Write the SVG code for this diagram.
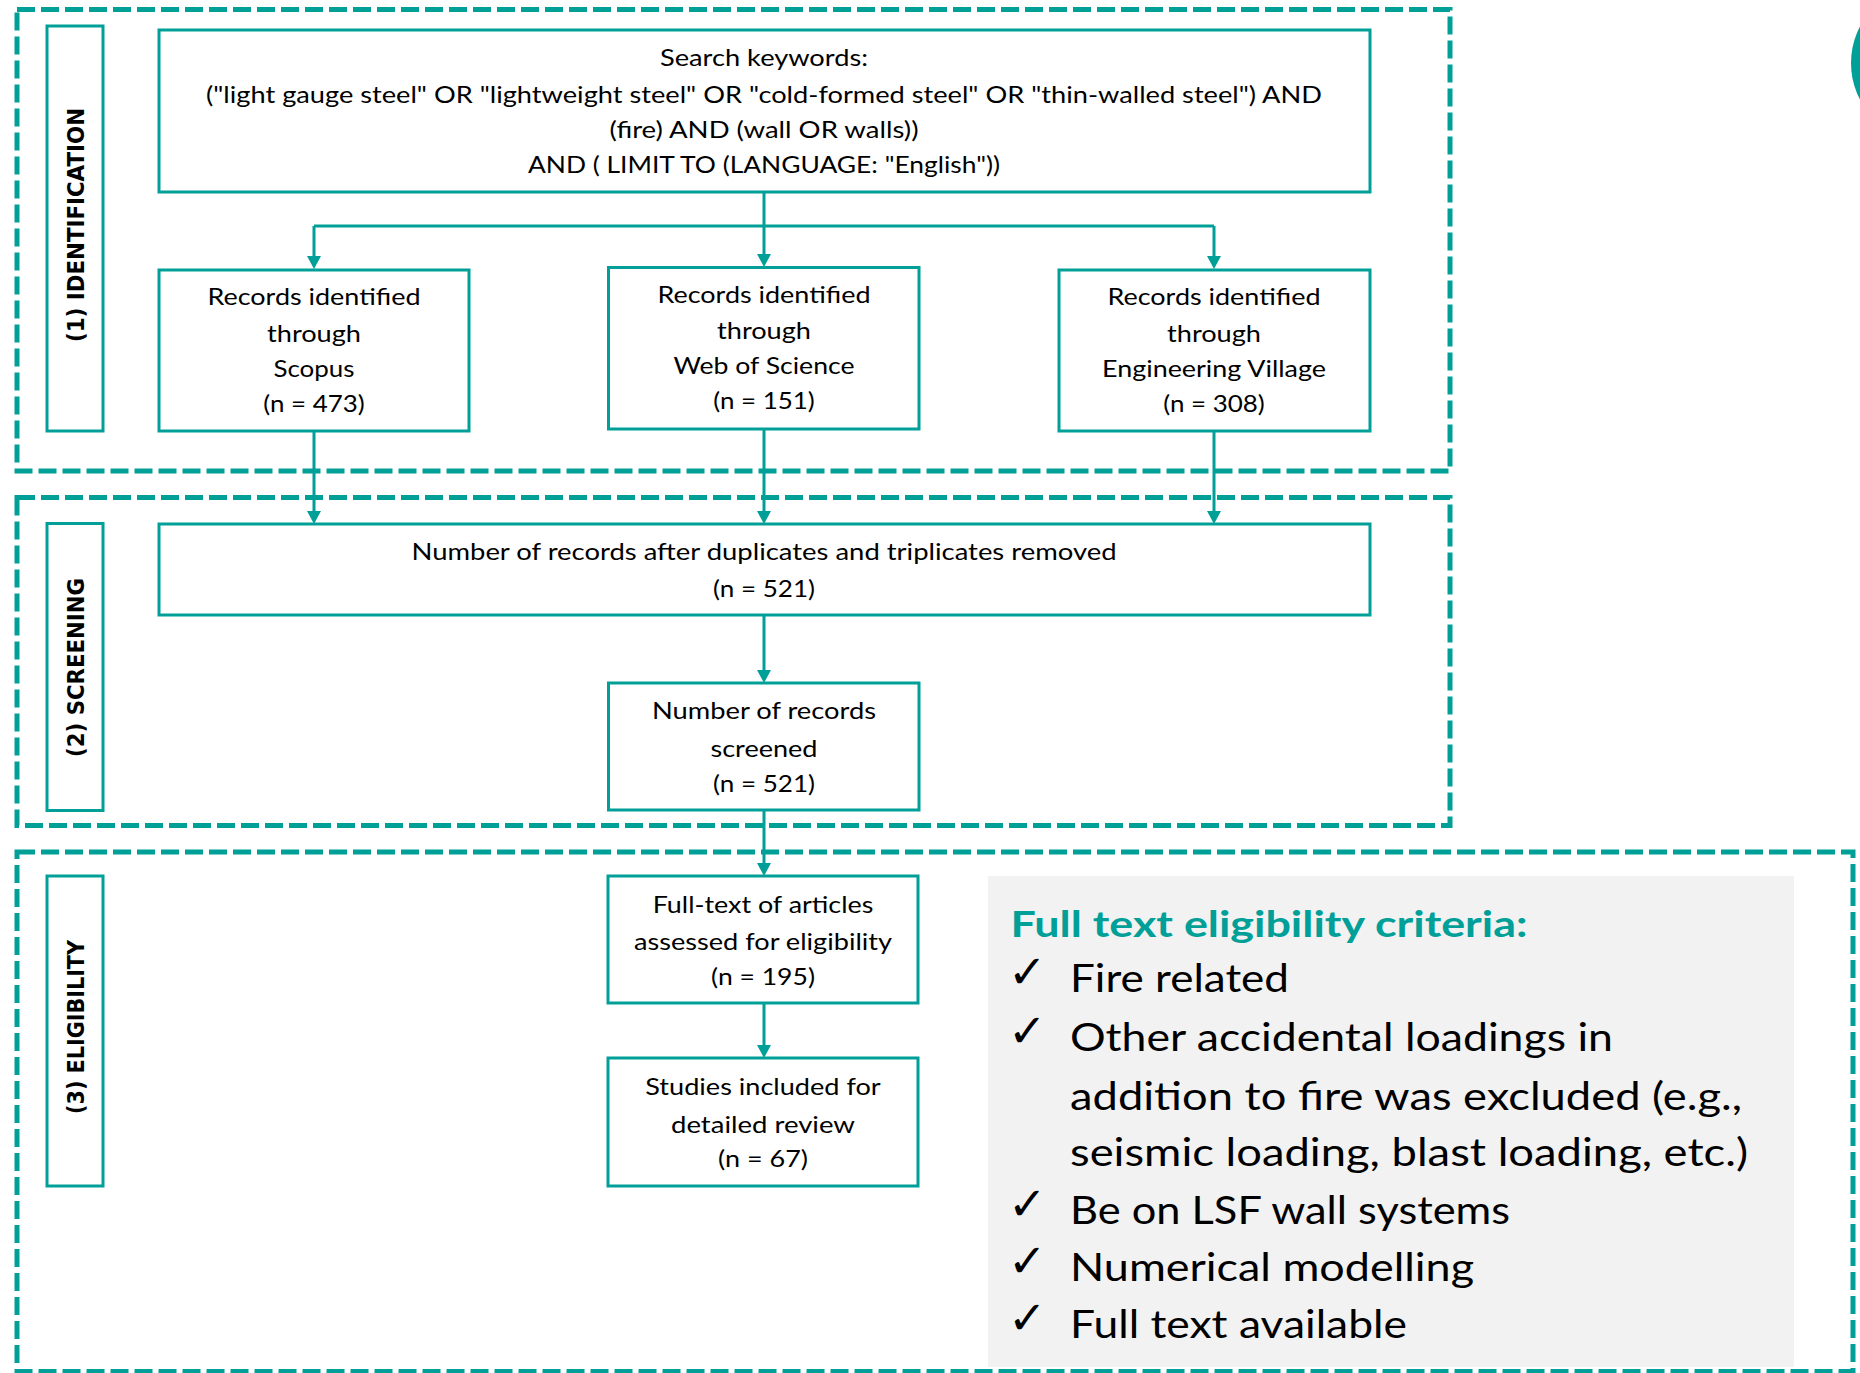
<svg xmlns="http://www.w3.org/2000/svg" width="1860" height="1373" viewBox="0 0 1860 1373">
<defs>
<style>
.zone{fill:none;stroke:#009F98;stroke-width:5;stroke-dasharray:18 6}
.box{fill:#fff;stroke:#009F98;stroke-width:3}
.side{fill:none;stroke:#009F98;stroke-width:3}
.t{font-family:Lato,"Open Sans",sans-serif;font-size:23px;fill:#000;text-anchor:middle}
.lbl{font-family:"DejaVu Sans",Verdana,sans-serif;font-weight:bold;font-size:23px;fill:#000;text-anchor:middle}
.c{font-family:Lato,"Open Sans",sans-serif;font-size:39px;fill:#000}
.ttl{font-family:Lato,"Open Sans",sans-serif;font-size:36.5px;font-weight:bold;fill:#009F98}
.chk{font-family:"DejaVu Sans",sans-serif;font-size:46px;fill:#000}
.con{fill:none;stroke:#009F98;stroke-width:3}
</style>
<marker id="ah" viewBox="0 0 13 14" refX="9" refY="7" markerWidth="13" markerHeight="14" markerUnits="userSpaceOnUse" orient="auto">
<path d="M0,0 L13,7 L0,14 z" fill="#009F98"/>
</marker>
</defs>
<rect width="1860" height="1373" fill="#fff"/>
<circle cx="1930" cy="63" r="79" fill="#009F98"/>

<g id="zones">
<rect class="zone" x="17" y="9.5" width="1433" height="461.5"/>
<rect class="zone" x="17" y="497.5" width="1433" height="328"/>
<rect class="zone" x="17" y="852" width="1836" height="519.5"/>
</g>

<g id="label-identification">
<rect class="side" x="47" y="26" width="56" height="405"/>
<text class="lbl" transform="translate(84,225) rotate(-90)" textLength="234" lengthAdjust="spacingAndGlyphs">(1) IDENTIFICATION</text>
</g>
<g id="label-screening">
<rect class="side" x="47" y="523.5" width="56" height="287"/>
<text class="lbl" transform="translate(84,667.5) rotate(-90)" textLength="179" lengthAdjust="spacingAndGlyphs">(2) SCREENING</text>
</g>
<g id="label-eligibility">
<rect class="side" x="47" y="876" width="56" height="310"/>
<text class="lbl" transform="translate(84,1027) rotate(-90)" textLength="174" lengthAdjust="spacingAndGlyphs">(3) ELIGIBILITY</text>
</g>

<g id="connectors">
<path class="con" d="M764,192 V226 M314,226 H1214"/>
<path class="con" d="M314,226 V265" marker-end="url(#ah)"/>
<path class="con" d="M764,226 V263" marker-end="url(#ah)"/>
<path class="con" d="M1214,226 V265" marker-end="url(#ah)"/>
<path class="con" d="M314,431 V520" marker-end="url(#ah)"/>
<path class="con" d="M764,429 V520" marker-end="url(#ah)"/>
<path class="con" d="M1214,431 V520" marker-end="url(#ah)"/>
<path class="con" d="M764,615 V679" marker-end="url(#ah)"/>
<path class="con" d="M764,810 V872" marker-end="url(#ah)"/>
<path class="con" d="M764,1003 V1054" marker-end="url(#ah)"/>
</g>

<g id="search">
<rect class="box" x="159" y="30" width="1211" height="162"/>
<text class="t" x="764" y="66" textLength="208" lengthAdjust="spacingAndGlyphs">Search keywords:</text>
<text class="t" x="764" y="102.7" textLength="1116" lengthAdjust="spacingAndGlyphs">("light gauge steel" OR "lightweight steel" OR "cold-formed steel" OR "thin-walled steel") AND</text>
<text class="t" x="764" y="138.3" textLength="309" lengthAdjust="spacingAndGlyphs">(fire) AND (wall OR walls))</text>
<text class="t" x="764" y="172.7" textLength="472" lengthAdjust="spacingAndGlyphs">AND ( LIMIT TO (LANGUAGE: "English"))</text>
</g>

<g id="scopus">
<rect class="box" x="159" y="270" width="310" height="161"/>
<text class="t" x="314" y="305" textLength="213" lengthAdjust="spacingAndGlyphs">Records identified</text>
<text class="t" x="314" y="341.5" textLength="94" lengthAdjust="spacingAndGlyphs">through</text>
<text class="t" x="314" y="376.7" textLength="81" lengthAdjust="spacingAndGlyphs">Scopus</text>
<text class="t" x="314" y="411.7" textLength="101.6" lengthAdjust="spacingAndGlyphs">(n = 473)</text>
</g>

<g id="wos">
<rect class="box" x="608.5" y="267.5" width="310.5" height="161.5"/>
<text class="t" x="764" y="302.5" textLength="213" lengthAdjust="spacingAndGlyphs">Records identified</text>
<text class="t" x="764" y="339" textLength="94" lengthAdjust="spacingAndGlyphs">through</text>
<text class="t" x="764" y="374.2" textLength="181" lengthAdjust="spacingAndGlyphs">Web of Science</text>
<text class="t" x="764" y="409.2" textLength="101.6" lengthAdjust="spacingAndGlyphs">(n = 151)</text>
</g>

<g id="ev">
<rect class="box" x="1059" y="270" width="311" height="161"/>
<text class="t" x="1214" y="305" textLength="213" lengthAdjust="spacingAndGlyphs">Records identified</text>
<text class="t" x="1214" y="341.5" textLength="94" lengthAdjust="spacingAndGlyphs">through</text>
<text class="t" x="1214" y="376.7" textLength="224" lengthAdjust="spacingAndGlyphs">Engineering Village</text>
<text class="t" x="1214" y="411.7" textLength="101.6" lengthAdjust="spacingAndGlyphs">(n = 308)</text>
</g>

<g id="dedup">
<rect class="box" x="159" y="524" width="1211" height="91"/>
<text class="t" x="764" y="560" textLength="705" lengthAdjust="spacingAndGlyphs">Number of records after duplicates and triplicates removed</text>
<text class="t" x="764" y="596.7" textLength="102" lengthAdjust="spacingAndGlyphs">(n = 521)</text>
</g>

<g id="screened">
<rect class="box" x="608.5" y="683" width="310.5" height="127"/>
<text class="t" x="764" y="719.3" textLength="224" lengthAdjust="spacingAndGlyphs">Number of records</text>
<text class="t" x="764" y="756.7" textLength="107" lengthAdjust="spacingAndGlyphs">screened</text>
<text class="t" x="764" y="791.7" textLength="102" lengthAdjust="spacingAndGlyphs">(n = 521)</text>
</g>

<g id="fulltext">
<rect class="box" x="608" y="876" width="310" height="127"/>
<text class="t" x="763" y="913" textLength="220.6" lengthAdjust="spacingAndGlyphs">Full-text of articles</text>
<text class="t" x="763" y="949.5" textLength="258" lengthAdjust="spacingAndGlyphs">assessed for eligibility</text>
<text class="t" x="763" y="984.6" textLength="104" lengthAdjust="spacingAndGlyphs">(n = 195)</text>
</g>

<g id="studies">
<rect class="box" x="608" y="1058" width="310" height="128"/>
<text class="t" x="763" y="1095" textLength="235.5" lengthAdjust="spacingAndGlyphs">Studies included for</text>
<text class="t" x="763" y="1132.5" textLength="184" lengthAdjust="spacingAndGlyphs">detailed review</text>
<text class="t" x="763" y="1166.5" textLength="90" lengthAdjust="spacingAndGlyphs">(n = 67)</text>
</g>

<g id="criteria">
<rect x="988" y="876" width="806" height="491" fill="#F2F2F2"/>
<text class="ttl" x="1010.5" y="936.5" textLength="517" lengthAdjust="spacingAndGlyphs">Full text eligibility criteria:</text>
<text class="chk" x="1008" y="988">✓</text>
<text class="c" x="1070" y="992" textLength="219" lengthAdjust="spacingAndGlyphs">Fire related</text>
<text class="chk" x="1008" y="1047">✓</text>
<text class="c" x="1070" y="1051" textLength="543" lengthAdjust="spacingAndGlyphs">Other accidental loadings in</text>
<text class="c" x="1070" y="1109.7" textLength="672" lengthAdjust="spacingAndGlyphs">addition to fire was excluded (e.g.,</text>
<text class="c" x="1070" y="1166" textLength="678" lengthAdjust="spacingAndGlyphs">seismic loading, blast loading, etc.)</text>
<text class="chk" x="1008" y="1220.4">✓</text>
<text class="c" x="1070" y="1224.4" textLength="440" lengthAdjust="spacingAndGlyphs">Be on LSF wall systems</text>
<text class="chk" x="1008" y="1277">✓</text>
<text class="c" x="1070" y="1281" textLength="404" lengthAdjust="spacingAndGlyphs">Numerical modelling</text>
<text class="chk" x="1008" y="1334">✓</text>
<text class="c" x="1070" y="1338" textLength="337" lengthAdjust="spacingAndGlyphs">Full text available</text>
</g>
</svg>
